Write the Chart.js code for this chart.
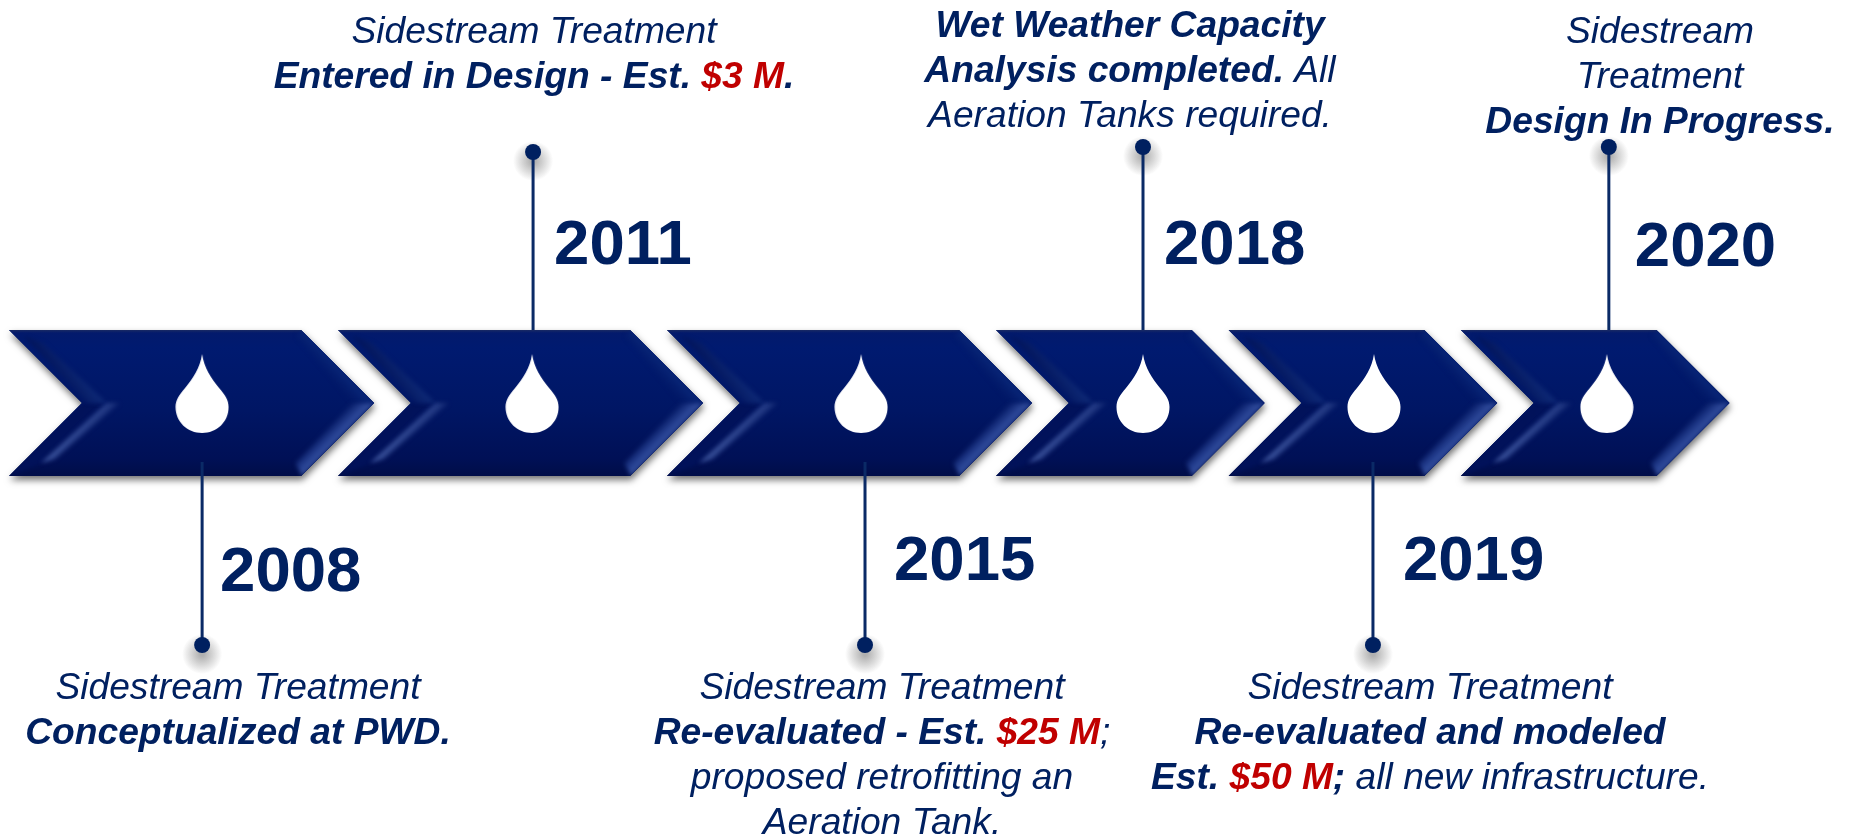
<!DOCTYPE html>
<html>
<head>
<meta charset="utf-8">
<title>Sidestream Treatment timeline</title>
<script src="https://cdn.jsdelivr.net/npm/chart.js@4"></script>
<style>
  html, body { margin: 0; padding: 0; background: #fff; }
  canvas { display: block; }
</style>
</head>
<body>
<canvas id="timeline" width="1849" height="835"></canvas>
<script>
const years = ['2008', '2011', '2015', '2018', '2019', '2020'];

// timeline units along the arrow band
const chevronStart = [0, 10, 20, 30, 37.07, 44.13];
const chevronTip = [11.1, 21.1, 31.1, 38.17, 45.24, 52.3];
const eventPos = [5.87, 15.93, 26.02, 34.47, 41.46, 48.63];
const dropPos = [5.87, 15.9, 25.9, 34.47, 41.49, 48.57];

// how far each stem reaches from the middle of the band
const stemStart = [-59, 73, -59, 73, -59, 73];
const stemEnd = [-242, 251, -242, 256, -242, 256];

const captions = [
  [[['n', 'Sidestream Treatment']],
   [['b', 'Conceptualized at PWD.']]],
  [[['n', 'Sidestream Treatment']],
   [['b', 'Entered in Design - Est. '], ['r', '$3 M'], ['b', '.']]],
  [[['n', 'Sidestream Treatment']],
   [['b', 'Re-evaluated - Est. '], ['r', '$25 M'], ['n', ';']],
   [['n', 'proposed retrofitting an']],
   [['n', 'Aeration Tank.']]],
  [[['b', 'Wet Weather Capacity']],
   [['b', 'Analysis completed.'], ['n', ' All']],
   [['n', 'Aeration Tanks required.']]],
  [[['n', 'Sidestream Treatment']],
   [['b', 'Re-evaluated and modeled']],
   [['b', 'Est. '], ['r', '$50 M'], ['b', ';'], ['n', ' all new infrastructure.']]],
  [[['n', 'Sidestream']],
   [['n', 'Treatment']],
   [['b', 'Design In Progress.']]]
];

const NAVY = '#002060';
const RED = '#C00000';
const BAND_HALF = 73;   // half height of a chevron, also its slant
const FONT = '"Liberation Sans", Arial, sans-serif';

// label placement, px: year text relative to its stem, caption block centre and first baseline
const yearOffset = [18, 21, 29, 21, 30, 26];
const yearCentre = [573, 246, 562, 246, 562, 248];
const captionCentre = [238, 534, 882, 1130, 1430, 1660];
const captionTop = [699, 43, 699, 37, 699, 43];

function dropImage() {
  const c = document.createElement('canvas');
  c.width = 54;
  c.height = 80;
  const g = c.getContext('2d');
  g.fillStyle = '#fff';
  g.beginPath();
  g.moveTo(27, 0);
  g.bezierCurveTo(29, 14, 36, 24, 44, 34);
  g.bezierCurveTo(50, 41, 53.5, 46, 53.5, 53);
  g.bezierCurveTo(53.5, 68, 41.5, 79, 27, 79);
  g.bezierCurveTo(12.5, 79, 0.5, 68, 0.5, 53);
  g.bezierCurveTo(0.5, 46, 4, 41, 10, 34);
  g.bezierCurveTo(18, 24, 25, 14, 27, 0);
  g.fill();
  return c;
}

function chevronPath(ctx, x0, x1, top, mid, bot) {
  ctx.beginPath();
  ctx.moveTo(x0, top);
  ctx.lineTo(x1 - BAND_HALF, top);
  ctx.lineTo(x1, mid);
  ctx.lineTo(x1 - BAND_HALF, bot);
  ctx.lineTo(x0, bot);
  ctx.lineTo(x0 + BAND_HALF, mid);
  ctx.closePath();
}

function facet(ctx, pts, from, to, stops) {
  const g = ctx.createLinearGradient(from[0], from[1], to[0], to[1]);
  stops.forEach(s => g.addColorStop(s[0], s[1]));
  ctx.fillStyle = g;
  ctx.beginPath();
  pts.forEach((p, i) => i ? ctx.lineTo(p[0], p[1]) : ctx.moveTo(p[0], p[1]));
  ctx.closePath();
  ctx.fill();
}

function drawChevron(ctx, x0, x1, mid) {
  const top = mid - BAND_HALF, bot = mid + BAND_HALF;
  const sx = x1 - BAND_HALF;

  // soft shadow under the shape
  ctx.save();
  ctx.shadowColor = 'rgba(0,0,0,0.55)';
  ctx.shadowBlur = 7;
  ctx.shadowOffsetX = 1;
  ctx.shadowOffsetY = 4;
  chevronPath(ctx, x0, x1, top, mid, bot);
  ctx.fillStyle = '#001a6e';
  ctx.fill();
  ctx.restore();

  ctx.save();
  chevronPath(ctx, x0, x1, top, mid, bot);
  ctx.clip();

  const body = ctx.createLinearGradient(0, top, 0, bot);
  body.addColorStop(0, '#1a2a64');
  body.addColorStop(0.02, '#031a6c');
  body.addColorStop(0.12, '#001a70');
  body.addColorStop(0.55, '#001664');
  body.addColorStop(0.88, '#001056');
  body.addColorStop(1, '#000d48');
  ctx.fillStyle = body;
  ctx.fillRect(x0, top, x1 - x0, bot - top);

  ctx.filter = 'blur(2px)';

  // bevel on the upper right edge
  facet(ctx, [[sx - 5, top + 6], [sx + 2, top], [x1, mid], [x1 - 22, mid]],
    [sx + 36, mid - 37], [sx + 20, mid - 22],
    [[0, '#092778'], [1, 'rgba(0,20,96,0)']]);
  // bevel on the lower right edge, the bright one
  facet(ctx, [[sx - 6, bot - 13], [x1 - 22, mid], [x1, mid], [sx + 1, bot]],
    [sx + 38, mid + 38], [sx + 20, mid + 20],
    [[0, '#3a57a6'], [0.4, '#203a8a'], [1, 'rgba(0,20,90,0)']]);

  // dark band along the notch, lower side
  facet(ctx, [[x0, bot], [x0 + BAND_HALF, mid], [x0 + BAND_HALF + 22, mid], [x0 + 32, bot - 13]],
    [x0 + 38, mid + 35], [x0 + 60, mid + 56],
    [[0, '#01125a'], [1, '#00125c']]);
  // light streak inside the lower notch edge
  facet(ctx, [[x0 + 32, bot - 13], [x0 + BAND_HALF + 25, mid], [x0 + BAND_HALF + 38, mid], [x0 + 46, bot - 17]],
    [x0 + 60, mid + 34], [x0 + 76, mid + 50],
    [[0, '#3f58a2'], [1, 'rgba(0,20,90,0)']]);

  // fainter streak on the upper notch edge
  facet(ctx, [[x0 + 34, top + 13], [x0 + BAND_HALF + 25, mid], [x0 + BAND_HALF + 6, mid], [x0 + 14, top + 6]],
    [x0 + 60, mid - 45], [x0 + 40, mid - 30],
    [[0, 'rgba(16,44,120,0.8)'], [1, 'rgba(0,16,82,0.85)']]);

  ctx.restore();
}

const chevronLayer = {
  id: 'chevronLayer',
  beforeDatasetsDraw(chart) {
    const { ctx, scales: { x, y } } = chart;
    chevronStart.forEach((s, i) => {
      drawChevron(ctx, x.getPixelForValue(s), x.getPixelForValue(chevronTip[i]), y.getPixelForValue(0));
    });
  }
};

// grey glow beneath each stem's end dot
const dotShadow = {
  id: 'dotShadow',
  beforeDatasetsDraw(chart) {
    const { ctx, scales: { x, y } } = chart;
    eventPos.forEach((p, i) => {
      const cx = x.getPixelForValue(p), cy = y.getPixelForValue(stemEnd[i]);
      const g = ctx.createRadialGradient(cx, cy + 9, 2, cx, cy + 9, 20);
      g.addColorStop(0, 'rgba(80,80,80,0.45)');
      g.addColorStop(1, 'rgba(80,80,80,0)');
      ctx.fillStyle = g;
      ctx.fillRect(cx - 21, cy - 12, 42, 42);
    });
  }
};

const runFont = kind => (kind === 'n' ? 'italic 37.2px ' : 'italic bold 37.2px ') + FONT;

const textLayer = {
  id: 'textLayer',
  afterDatasetsDraw(chart) {
    const { ctx, scales: { x } } = chart;
    ctx.save();

    ctx.textBaseline = 'middle';
    ctx.textAlign = 'left';
    ctx.font = 'bold 63.5px ' + FONT;
    ctx.fillStyle = NAVY;
    years.forEach((yr, i) => {
      ctx.fillText(yr, x.getPixelForValue(eventPos[i]) + yearOffset[i], yearCentre[i]);
    });

    ctx.textBaseline = 'alphabetic';
    captions.forEach((lines, i) => {
      lines.forEach((runs, n) => {
        let width = 0;
        runs.forEach(r => { ctx.font = runFont(r[0]); width += ctx.measureText(r[1]).width; });
        let cur = captionCentre[i] - width / 2;
        runs.forEach(r => {
          ctx.font = runFont(r[0]);
          ctx.fillStyle = r[0] === 'r' ? RED : NAVY;
          ctx.fillText(r[1], cur, captionTop[i] + n * 45);
          cur += ctx.measureText(r[1]).width;
        });
      });
    });
    ctx.restore();
  }
};

const stemSets = years.map((yr, i) => ({
  label: yr,
  type: 'line',
  data: [{ x: eventPos[i], y: stemStart[i] }, { x: eventPos[i], y: stemEnd[i] }],
  borderColor: '#0a2a66',
  borderWidth: 3,
  pointRadius: [0, 8],
  pointBackgroundColor: NAVY,
  pointBorderWidth: 0,
  fill: false
}));

new Chart(document.getElementById('timeline'), {
  type: 'scatter',
  data: {
    datasets: [
      {
        label: 'drops',
        data: dropPos.map(p => ({ x: p, y: 9 })),
        pointStyle: dropImage(),
        pointRadius: 27
      },
      ...stemSets
    ]
  },
  options: {
    responsive: false,
    animation: false,
    events: [],
    layout: { padding: 0, autoPadding: false },
    plugins: { legend: { display: false }, tooltip: { enabled: false }, title: { display: false } },
    scales: {
      x: { type: 'linear', display: false, min: -0.2736, max: 55.93 },
      y: { type: 'linear', display: false, min: -432, max: 403 }
    }
  },
  plugins: [chevronLayer, dotShadow, textLayer]
});
</script>
</body>
</html>
